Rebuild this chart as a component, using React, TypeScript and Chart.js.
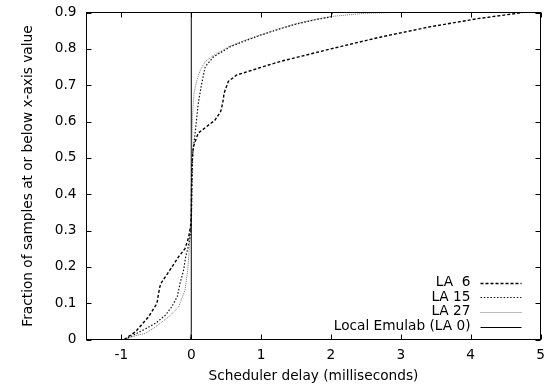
import React, { useEffect, useRef } from "react";
import { Chart, registerables } from "chart.js";

Chart.register(...registerables);

const xTicks = [-1, 0, 1, 2, 3, 4, 5];
const yTicks = [0, 0.1, 0.2, 0.3, 0.4, 0.5, 0.6, 0.7, 0.8, 0.9];
const seriesNames = ["LA  6", "LA 15", "LA 27", "Local Emulab (LA 0)"];
const xTitle = "Scheduler delay (milliseconds)";
const yTitle = "Fraction of samples at or below x-axis value";

const la6X = [-0.96, -0.8, -0.61, -0.49, -0.47, -0.45, -0.42, -0.32, -0.18, -0.09, -0.04, -0.01, 0, 0.005, 0.01, 0.03, 0.1, 0.22, 0.34, 0.42, 0.45, 0.47, 0.53, 0.65, 0.8, 1.03, 1.27, 2.0, 2.7, 3.4, 4.1, 4.75];
const la6Y = [0, 0.021, 0.063, 0.1, 0.125, 0.145, 0.159, 0.187, 0.228, 0.25, 0.28, 0.31, 0.34, 0.42, 0.485, 0.531, 0.568, 0.586, 0.604, 0.627, 0.65, 0.678, 0.71, 0.728, 0.737, 0.751, 0.765, 0.8, 0.832, 0.86, 0.883, 0.9];

const la15X = [-0.95, -0.8, -0.65, -0.51, -0.37, -0.28, -0.2, -0.16, -0.11, -0.08, -0.05, -0.02, 0, 0.01, 0.02, 0.06, 0.1, 0.15, 0.2, 0.32, 0.56, 0.8, 1.0, 1.27, 1.5, 1.75, 2.0, 2.02];
const la15Y = [0, 0.015, 0.03, 0.045, 0.067, 0.09, 0.118, 0.155, 0.191, 0.228, 0.25, 0.28, 0.31, 0.42, 0.51, 0.577, 0.65, 0.705, 0.751, 0.778, 0.806, 0.824, 0.838, 0.855, 0.868, 0.879, 0.888, 0.9];

const la27X = [-0.95, -0.8, -0.66, -0.51, -0.32, -0.18, -0.09, -0.05, -0.03, -0.015, 0, 0.01, 0.02, 0.04, 0.08, 0.13, 0.2, 0.32, 0.56, 0.8, 1.0, 1.27, 1.5, 1.75, 2.0, 2.5, 2.9];
const la27Y = [0, 0.01, 0.017, 0.035, 0.063, 0.09, 0.136, 0.191, 0.246, 0.3, 0.4, 0.55, 0.623, 0.678, 0.714, 0.742, 0.765, 0.782, 0.808, 0.826, 0.839, 0.856, 0.869, 0.88, 0.889, 0.898, 0.9];

const localX = [-0.01, 0, 0];
const localY = [0, 0.02, 0.9];

const FONT = "'DejaVu Sans', 'Liberation Sans', Arial, sans-serif";
const FS = 13.7;

const toPoints = (xs: number[], ys: number[]) => xs.map((x, i) => ({ x, y: ys[i] }));

const framePlugin = {
  id: "frame",
  afterDatasetsDraw(chart: any) {
    const { ctx, chartArea: ca, scales } = chart;
    const xs = scales.x;
    const ys = scales.y;
    const tl = 5;
    ctx.save();
    ctx.strokeStyle = "#000";
    ctx.lineWidth = 1;
    ctx.beginPath();
    for (const v of xTicks) {
      const px = Math.round(xs.getPixelForValue(v)) + 0.5;
      ctx.moveTo(px, ca.bottom);
      ctx.lineTo(px, ca.bottom - tl);
      ctx.moveTo(px, ca.top);
      ctx.lineTo(px, ca.top + tl);
    }
    for (const v of yTicks) {
      const py = Math.round(ys.getPixelForValue(v)) + 0.5;
      ctx.moveTo(ca.left, py);
      ctx.lineTo(ca.left + tl, py);
      ctx.moveTo(ca.right, py);
      ctx.lineTo(ca.right - tl, py);
    }
    ctx.stroke();
    ctx.strokeRect(ca.left, ca.top, ca.right - ca.left, ca.bottom - ca.top);
    ctx.restore();
  },
};

const legendPlugin = {
  id: "customLegend",
  afterDraw(chart: any) {
    const { ctx, chartArea: ca } = chart;
    ctx.save();
    ctx.font = `${FS}px ${FONT}`;
    ctx.fillStyle = "#000";
    ctx.textAlign = "right";
    ctx.textBaseline = "middle";
    chart.data.datasets.forEach((ds: any, i: number) => {
      const y = ca.bottom - 56.8 + i * 14.6;
      ctx.fillText(ds.label, ca.right - 70, y);
      ctx.save();
      ctx.strokeStyle = ds.borderColor;
      ctx.lineWidth = ds.borderWidth;
      ctx.setLineDash(ds.borderDash || []);
      ctx.beginPath();
      ctx.moveTo(ca.right - 60, Math.round(y) + 0.5);
      ctx.lineTo(ca.right - 19, Math.round(y) + 0.5);
      ctx.stroke();
      ctx.restore();
    });
    ctx.restore();
  },
};

export default function App() {
  const ref = useRef<HTMLCanvasElement | null>(null);
  useEffect(() => {
    if (!ref.current) return;
    const chart = new Chart(ref.current, {
      type: "scatter",
      data: {
        datasets: [
          { label: seriesNames[0], data: toPoints(la6X, la6Y), borderColor: "#000", borderWidth: 1.4, borderDash: [3, 2] },
          { label: seriesNames[1], data: toPoints(la15X, la15Y), borderColor: "#111", borderWidth: 1.2, borderDash: [1.5, 1.8] },
          { label: seriesNames[2], data: toPoints(la27X, la27Y), borderColor: "#777", borderWidth: 1, borderDash: [1, 1] },
          { label: seriesNames[3], data: toPoints(localX, localY), borderColor: "#000", borderWidth: 1, borderDash: [] },
        ].map((d) => ({ ...d, showLine: true, pointRadius: 0, pointHoverRadius: 0, tension: 0, fill: false })),
      },
      options: {
        responsive: false,
        animation: false,
        events: [],
        layout: { padding: { left: 20.7, right: 4.5, top: 12.5, bottom: 0 } },
        plugins: { legend: { display: false }, tooltip: { enabled: false } },
        scales: {
          x: {
            type: "linear",
            min: -1.5,
            max: 5,
            grid: { display: false, drawTicks: false },
            border: { display: false },
            afterBuildTicks: (s: any) => {
              s.ticks = xTicks.map((v) => ({ value: v }));
            },
            afterFit: (s: any) => {
              s.height = 49.5;
              s.paddingLeft = 0;
              s.paddingRight = 0;
            },
            ticks: {
              color: "#000",
              padding: 8,
              maxRotation: 0,
              autoSkip: false,
              font: { family: FONT, size: FS },
              callback: (v: any) => String(v),
            },
            title: {
              display: true,
              text: xTitle,
              color: "#000",
              padding: { top: 0, bottom: 4 },
              font: { family: FONT, size: FS },
            },
          },
          y: {
            type: "linear",
            min: 0,
            max: 0.9,
            grid: { display: false, drawTicks: false },
            border: { display: false },
            afterBuildTicks: (s: any) => {
              s.ticks = yTicks.map((v) => ({ value: v }));
            },
            afterFit: (s: any) => {
              s.width = 65.8;
              s.paddingTop = 0;
              s.paddingBottom = 0;
            },
            ticks: {
              color: "#000",
              padding: 10,
              autoSkip: false,
              font: { family: FONT, size: FS },
              callback: (v: any) => String(v),
            },
            title: {
              display: true,
              text: yTitle,
              color: "#000",
              padding: 0,
              font: { family: FONT, size: FS },
            },
          },
        },
      },
      plugins: [framePlugin, legendPlugin],
    } as any);
    return () => chart.destroy();
  }, []);
  return (
    <div style={{ position: "absolute", left: 0, top: 0, width: 545, height: 389, background: "#fff" }}>
      <canvas ref={ref} width={545} height={389} style={{ display: "block" }} />
    </div>
  );
}
